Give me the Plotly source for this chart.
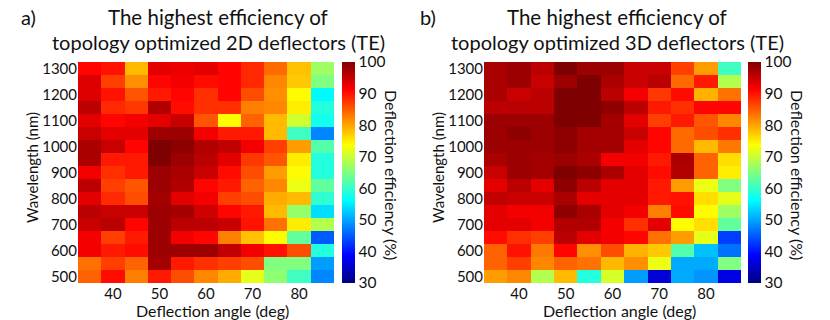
import plotly.graph_objects as go

angles = [35, 40, 45, 50, 55, 60, 65, 70, 75, 80, 85]
# wavelength rows, listed top (1300 nm) to bottom (500 nm)
wavelengths = [1300, 1250, 1200, 1150, 1100, 1050, 1000, 950, 900,
               850, 800, 750, 700, 650, 600, 550, 500]

eff_2d = [
    [91, 90, 78.5, 93, 92.5, 93, 91, 88.5, 84, 78, 67],
    [93.5, 87, 81.5, 91, 92, 90.5, 91, 88.5, 82, 77.5, 65],
    [93.5, 90, 85.5, 89.5, 91, 88, 91, 86, 81.5, 74, 56],
    [96, 88.5, 87.5, 96.5, 90.5, 88, 88, 82.5, 82, 75, 58.5],
    [93, 91, 92, 93, 95, 85.5, 74, 84.5, 78.5, 70.5, 57.5],
    [95, 93, 93, 98, 98, 92, 89.5, 89.5, 78.5, 60.5, 48],
    [97, 95, 91, 100, 99, 96.5, 95.5, 92, 87, 80.5, 62],
    [97, 89.5, 89.5, 100, 98, 96, 93, 87.5, 85.5, 75, 58.5],
    [92, 88, 89.5, 98, 97, 95, 90.5, 86, 80.5, 74, 58.5],
    [96, 87, 85.5, 98, 96.5, 91, 89.5, 84.5, 82, 72.5, 63],
    [93, 88.5, 86, 97.5, 93, 92, 87, 86, 79.5, 78.5, 59.5],
    [96, 95, 95, 98, 97.5, 94.5, 91, 89.5, 78.5, 66.5, 54],
    [95, 96, 91, 98, 96, 96, 95, 90, 83.5, 75, 68.5],
    [92, 87, 89.5, 98, 92, 91, 82.5, 78, 74, 63, 45],
    [92, 89.5, 90.5, 98, 98, 98, 95.5, 92, 90, 86, 58.5],
    [83.5, 87, 84.5, 97.5, 89.5, 88, 87, 86, 65, 65, 49.5],
    [84.5, 90.5, 82.5, 89.5, 86, 82, 79.5, 72, 66, 60.5, 48],
]

eff_3d = [
    [97, 98, 96, 100, 98, 98, 95, 95, 87, 80.5, 60.5],
    [97, 98, 95, 98, 100, 97, 95, 96, 84, 89.5, 68.5],
    [97, 95, 96, 100, 100, 96, 92, 87.5, 90.5, 79, 83.5],
    [96, 96, 96, 100, 100, 99, 96, 89.5, 88, 91, 91],
    [98, 98, 98, 100, 100, 97.5, 93, 87, 89.5, 85.5, 82],
    [98, 99, 98, 99, 97.5, 97.5, 95, 91, 84, 86, 88],
    [98, 98, 98, 99, 97.5, 97.5, 93, 91, 84, 78.5, 83],
    [97, 98, 97.5, 98, 97, 92, 92, 89.5, 97, 84.5, 76],
    [95, 98, 97.5, 100, 99, 97, 93, 90.5, 96.5, 84.5, 75],
    [93, 96, 93, 99, 96, 93, 93, 89.5, 80.5, 72.5, 65],
    [95.5, 95, 95, 97, 93, 93, 93, 89.5, 90, 76, 72],
    [93, 92, 92, 99, 97, 93, 92, 82.5, 90.5, 74, 67],
    [93, 93, 92, 96.5, 96.5, 92, 88, 93, 74, 76, 63],
    [90.5, 88, 87, 96, 93, 92, 91, 83.5, 80.5, 72, 43],
    [84.5, 90, 83, 91, 81.5, 86, 79, 77.5, 62, 52, 46.5],
    [84.5, 87, 82, 84.5, 83.5, 78.5, 81.5, 72.5, 50.5, 50.5, 65],
    [80.5, 82, 68.5, 78.5, 58.5, 71, 49.5, 36, 50.5, 49, 37],
]

jet = [[0, "#00007F"], [0.125, "#0000FF"], [0.375, "#00FFFF"],
       [0.625, "#FFFF00"], [0.875, "#FF0000"], [1, "#7F0000"]]

FONT = "Lato"
INK = "#111"
W, H = 830, 320

def px_x(p):
    return p / W

def px_y(p):
    return 1 - p / H

def label(text, x, y, size, angle=0):
    fig.add_annotation(x=px_x(x), y=px_y(y), xref="paper", yref="paper",
                       xanchor="center", yanchor="middle", text=text,
                       textangle=angle, showarrow=False,
                       font=dict(family=FONT, size=size, color=INK))

fig = go.Figure()

panels = [
    # trace axes, plot left/right px, colorbar px, panel tag, tag px, dim, title centre px
    (eff_2d, "x", "y", 78, 334, 342, "a)", 28, "2D", 218),
    (eff_3d, "x2", "y2", 484, 741, 748, "b)", 428, "3D", 617),
]

for z, xa, ya, x0, x1, cbx, tag, tagx, dim, tcx in panels:
    fig.add_trace(go.Heatmap(
        x=angles, y=wavelengths[::-1], z=z[::-1],
        xaxis=xa, yaxis=ya,
        colorscale=jet, zmin=30, zmax=100,
        colorbar=dict(
            x=px_x(cbx), xanchor="left", xpad=0, ypad=0,
            y=px_y(172.5), yanchor="middle",
            len=221 / H, lenmode="fraction",
            thickness=13, outlinewidth=0,
            tickvals=[30, 40, 50, 60, 70, 80, 90, 100],
            ticks="",
            tickfont=dict(family=FONT, size=15.5, color=INK),
        ),
    ))
    label(tag, tagx, 17, 20)
    label("The highest efficiency of", tcx, 17, 20.5)
    label(f"topology optimized {dim} deflectors (TE)", tcx, 42, 20)
    label("Deflection efficiency (%)", cbx + 50, 175, 16, angle=90)
    label("Deflection angle (deg)", (x0 + x1) / 2 + 7, 310, 16)
    label("Wavelength (nm)", x0 - 46, 168, 15, angle=-90)

axis_common = dict(
    showgrid=False, zeroline=False, ticks="", automargin=False,
    tickfont=dict(family=FONT, size=15, color=INK),
)

fig.update_layout(
    width=W, height=H,
    margin=dict(l=0, r=0, t=0, b=0),
    paper_bgcolor="white", plot_bgcolor="white",
    xaxis=dict(domain=[px_x(78), px_x(334)], anchor="y", range=[32.5, 87.5],
               tickvals=[40, 50, 60, 70, 80], **axis_common),
    yaxis=dict(domain=[px_y(283), px_y(62)], anchor="x", range=[475, 1325],
               tickvals=list(range(500, 1301, 100)), **axis_common),
    xaxis2=dict(domain=[px_x(484), px_x(741)], anchor="y2", range=[32.5, 87.5],
                tickvals=[40, 50, 60, 70, 80], **axis_common),
    yaxis2=dict(domain=[px_y(283), px_y(62)], anchor="x2", range=[475, 1325],
                tickvals=list(range(500, 1301, 100)), **axis_common),
)

# drop the default 8px body margin so the figure sits at the window corner
fig.write_html("out.html", config={"displayModeBar": False},
               post_script="document.body.style.margin = '0';")
